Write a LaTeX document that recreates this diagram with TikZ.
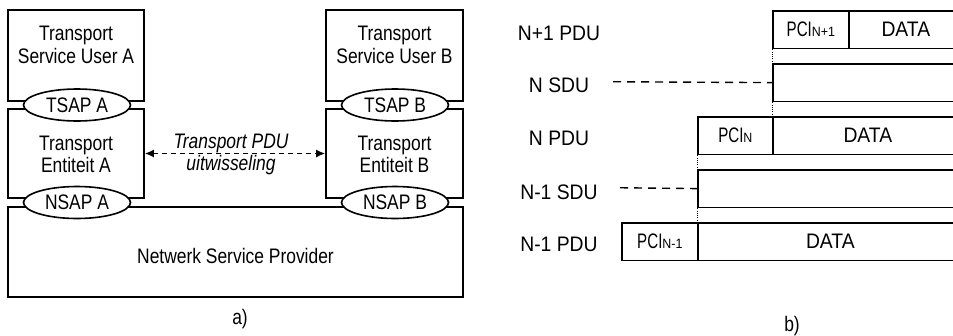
\documentclass[tikz,border=0pt]{standalone}
\usepackage{fontspec}
\setmainfont{Liberation Sans}[FakeStretch=0.83]
\newfontfamily\labelsans{Liberation Sans}[FakeStretch=0.92]
\newfontfamily\pcisans{Liberation Sans}[FakeStretch=0.72]
\usetikzlibrary{arrows.meta,shapes.geometric}

% "PCI" with its layer index set small on the baseline
\newcommand{\pcilabel}[1]{{\pcisans PCI}{\labelsans\fontsize{13.5}{13.5}\selectfont #1}}

\tikzset{
  every node/.style={font=\fontsize{21}{24}\selectfont, inner sep=0pt},
  box/.style={draw, line width=1.7pt, minimum width=#1},
  box/.default=136pt,
  sap/.style={draw, ellipse, fill=white, line width=1.6pt,
              minimum width=107pt, minimum height=32pt},
  cell/.style={draw, line width=1.7pt, anchor=north west,
               minimum height=37.5pt, minimum width=#1,
               font=\fontsize{21}{24}\selectfont\labelsans},
  rowlabel/.style={font=\fontsize{21}{24}\selectfont\labelsans},
  txt/.style={anchor=base},
  joinline/.style={line width=0.9pt, dash pattern=on 1pt off 1.3pt},
  leader/.style={line width=1.4pt, dash pattern=on 8pt off 6pt},
  xfer/.style={line width=1.4pt, dash pattern=on 5pt off 4pt,
               {Latex[length=9pt,width=8pt]}-{Latex[length=9pt,width=8pt]}},
}

\begin{document}
\begin{tikzpicture}[x=1pt, y=-1pt]
\useasboundingbox (0,0) rectangle (953,335);
\clip (0,0) rectangle (953,335);

% ---------- a) transport layer service model ----------
\node[box, minimum height=91pt] (userA) at (76,55.5) {};
\node[box, minimum height=89pt] (entA)  at (76,153.5) {};
\node[box=137pt, minimum height=91pt] (userB) at (394.5,55.5) {};
\node[box=137pt, minimum height=89pt] (entB)  at (394.5,153.5) {};
\node[box=455pt, minimum height=90pt] (prov) at (235.5,252) {};

\node[sap] (tsapA) at (77,105)    {TSAP A};
\node[sap] (nsapA) at (77,202.5)  {NSAP A};
\node[sap] (tsapB) at (395,105)   {TSAP B};
\node[sap] (nsapB) at (395,202.5) {NSAP B};

\node[txt] (uA1) at (76,40)    {Transport};
\node[txt] (uA2) at (76,63.5)  {Service User A};
\node[txt] (eA1) at (76,150)   {Transport};
\node[txt] (eA2) at (76,172.5) {Entiteit A};
\node[txt] (uB1) at (394.5,40)    {Transport};
\node[txt] (uB2) at (394.5,63.5)  {Service User B};
\node[txt] (eB1) at (394.5,150)   {Transport};
\node[txt] (eB2) at (394.5,172.5) {Entiteit B};
\node[txt] (provtxt) at (235.5,263) {Netwerk Service Provider};

\draw[xfer] (entA.east) -- (entB.west);
\node[txt, font=\fontsize{21}{24}\selectfont\itshape] (pdu1) at (231,148) {Transport PDU};
\node[txt, font=\fontsize{21}{24}\selectfont\itshape] (pdu2) at (231,170) {uitwisseling};

\node[txt] (capA) at (240,324) {a)};

% ---------- b) PDU / SDU nesting ----------
\node[cell=76pt]  (pci1)  at (772,10)  {\pcilabel{N+1}};
\node[cell=114pt] (data1) at (848,10)  {DATA};
\node[cell=190pt] (sdu1)  at (772,63)  {};
\node[cell=75pt]  (pci2)  at (697,116) {\pcilabel{N}};
\node[cell=190pt] (data2) at (772,116) {DATA};
\node[cell=265pt] (sdu2)  at (697,169) {};
\node[cell=76pt]  (pci3)  at (621,222) {\pcilabel{N-1}};
\node[cell=265pt] (data3) at (697,222) {DATA};

\node[rowlabel] (l1) at (559,33)    {N+1 PDU};
\node[rowlabel] (l2) at (559,85.5)  {N SDU};
\node[rowlabel] (l3) at (559,138.5) {N PDU};
\node[rowlabel] (l4) at (559,192)   {N-1 SDU};
\node[rowlabel] (l5) at (559,244.5) {N-1 PDU};

\coordinate (d2) at (613,81.75);
\coordinate (d4) at (620,187.75);
\draw[leader] (d2) -- (sdu1.west);
\draw[leader] (d4) -- (sdu2.west);

\draw[joinline] (pci1.south west) -- (sdu1.north west);
\draw[joinline] (sdu1.south west) -- (data2.north west);
\draw[joinline] (pci2.south west) -- (sdu2.north west);
\draw[joinline] (sdu2.south west) -- (data3.north west);

\node[txt] (capB) at (792,331) {b)};
\end{tikzpicture}
\end{document}
